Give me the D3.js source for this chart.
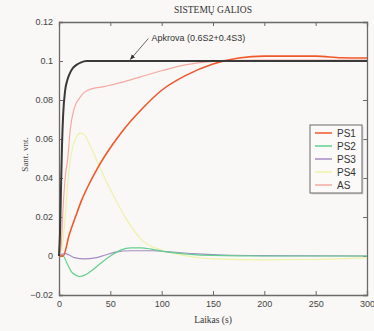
<!DOCTYPE html>
<html>
<head>
<meta charset="utf-8">
<script src="https://cdn.jsdelivr.net/npm/d3@7"></script>
<style>
  body { margin: 0; background: #f9f8f6; }
  svg { display: block; }
</style>
</head>
<body>
<svg width="374" height="331"></svg>
<script>
// data: [time (s), value]
var apkrova = [[0,0],[1,0.012],[2,0.036],[3,0.058],[4,0.072],[6,0.085],[8,0.09],[10,0.093],[13,0.096],[17,0.098],[21,0.0992],[27,0.1],[60,0.1],[300,0.1]];
var ps1 = [[0,0],[4,0],[10,0.011],[16,0.02],[22,0.0285],[28,0.0355],[38,0.0455],[50,0.0555],[61,0.0635],[81,0.0755],[100,0.085],[123,0.0925],[150,0.0985],[175,0.1015],[200,0.1025],[250,0.1025],[275,0.1017],[300,0.1015]];
var ps2 = [[0,0],[4,0],[8,-0.004],[12,-0.008],[16,-0.0097],[20,-0.0105],[25,-0.0098],[30,-0.0082],[40,-0.004],[50,0],[60,0.003],[70,0.0042],[80,0.0042],[90,0.0035],[100,0.0025],[125,0.001],[150,0.0003],[200,0],[300,0]];
var ps3 = [[0,0],[3,0.001],[6,0.0012],[10,0.0005],[15,-0.0008],[25,-0.0015],[35,-0.001],[45,0.0005],[55,0.002],[70,0.0027],[90,0.0027],[110,0.002],[130,0.0012],[160,0.0005],[200,0.0002],[300,0]];
var ps4 = [[0,0],[2,0.002],[4,0.008],[6,0.02],[9,0.04],[13,0.055],[17,0.061],[21,0.063],[25,0.062],[30,0.057],[40,0.045],[55,0.029],[68,0.017],[81,0.008],[100,0.003],[125,0],[150,-0.0015],[200,-0.002],[250,-0.0018],[300,-0.001]];
var as = [[0,0],[2,0.005],[4,0.025],[6,0.04],[8.5,0.05],[11,0.065],[15,0.076],[20,0.081],[28,0.085],[45,0.087],[61,0.089],[80,0.092],[100,0.095],[123,0.098],[150,0.0998],[200,0.1005],[300,0.1005]];

var names = ["PS1", "PS2", "PS3", "PS4", "AS"];
var colors = ["#f0582a", "#62cf8e", "#a48cc4", "#eef2a8", "#f6a8a0"];
var xTicks = [0, 50, 100, 150, 200, 250, 300];
var yTicks = [-0.02, 0, 0.02, 0.04, 0.06, 0.08, 0.1, 0.12];

var svg = d3.select("svg"),
    margin = {top: 22, right: 7, bottom: 36, left: 59},
    width = 374 - margin.left - margin.right,
    height = 331 - margin.top - margin.bottom,
    g = svg.append("g").attr("transform", "translate(" + margin.left + "," + margin.top + ")");

var x = d3.scaleLinear().domain([0, 300]).range([0, width]),
    y = d3.scaleLinear().domain([-0.02, 0.12]).range([height, 0]);

var line = d3.line()
    .x(function (d) { return x(d[0]); })
    .y(function (d) { return y(d[1]); })
    .curve(d3.curveMonotoneX);

var tickFmt = function (d) { return d === 0 ? "0" : d3.format("")(+d.toFixed(2)); };

// axes with inward ticks
g.append("g")
    .attr("transform", "translate(0," + height + ")")
    .call(d3.axisBottom(x).tickValues(xTicks).tickSize(-4).tickPadding(6))
    .call(styleAxis);
g.append("g")
    .call(d3.axisTop(x).tickValues(xTicks).tickSize(-4).tickFormat(""))
    .call(styleAxis);
g.append("g")
    .call(d3.axisLeft(y).tickValues(yTicks).tickSize(-4).tickPadding(6).tickFormat(tickFmt))
    .call(styleAxis);
g.append("g")
    .attr("transform", "translate(" + width + ",0)")
    .call(d3.axisRight(y).tickValues(yTicks).tickSize(-4).tickFormat(""))
    .call(styleAxis);

function styleAxis(sel) {
    sel.select(".domain").attr("stroke", "#6a6a6a").attr("stroke-width", 1.3);
    sel.selectAll(".tick line").attr("stroke", "#6a6a6a");
    sel.selectAll(".tick text")
        .attr("fill", "#444")
        .style("font", "9px 'Liberation Sans', Arial, sans-serif");
}

// series, drawn light to dark so the thin ones sit underneath
var series = [ps4, as, ps3, ps2, ps1];
var order = [3, 4, 2, 1, 0];
series.forEach(function (s, i) {
    g.append("path")
        .attr("d", line(s))
        .attr("fill", "none")
        .attr("stroke", colors[order[i]])
        .attr("stroke-width", order[i] === 0 ? 1.6 : 1.2);
});

g.append("path")
    .attr("d", line(apkrova))
    .attr("fill", "none")
    .attr("stroke", "#3a3a3a")
    .attr("stroke-width", 2);

// annotation
svg.append("defs").append("marker")
    .attr("id", "arr")
    .attr("viewBox", "0 0 10 10")
    .attr("refX", 9).attr("refY", 5)
    .attr("markerWidth", 6).attr("markerHeight", 6)
    .attr("orient", "auto")
    .append("path")
    .attr("d", "M0,1L10,5L0,9Z")
    .attr("fill", "#333");

g.append("line")
    .attr("x1", x(87)).attr("y1", y(0.1115))
    .attr("x2", x(69.5)).attr("y2", y(0.1008))
    .attr("stroke", "#555")
    .attr("stroke-width", 0.9)
    .attr("marker-end", "url(#arr)");

g.append("text")
    .attr("x", x(90))
    .attr("y", y(0.1105))
    .attr("fill", "#333")
    .style("font", "9px 'Liberation Sans', Arial, sans-serif")
    .text("Apkrova (0.6S2+0.4S3)");

// legend
var lg = g.append("g").attr("transform", "translate(" + (width - 57) + ",103)");
lg.append("rect")
    .attr("x", 1.5).attr("y", 1.5)
    .attr("width", 52).attr("height", 68)
    .attr("fill", "#d8d8d8");
lg.append("rect")
    .attr("width", 52).attr("height", 68)
    .attr("fill", "#fbfaf8")
    .attr("stroke", "#6a6a6a")
    .attr("stroke-width", 1);
names.forEach(function (n, i) {
    var yy = 8 + i * 13;
    lg.append("line")
        .attr("x1", 5).attr("x2", 22)
        .attr("y1", yy).attr("y2", yy)
        .attr("stroke", colors[i])
        .attr("stroke-width", 1.5);
    lg.append("text")
        .attr("x", 27).attr("y", yy)
        .attr("dy", "0.35em")
        .attr("fill", "#333")
        .style("font", "10px 'Liberation Sans', Arial, sans-serif")
        .text(n);
});

// titles
svg.append("text")
    .attr("x", margin.left + width / 2)
    .attr("y", 13)
    .attr("text-anchor", "middle")
    .attr("fill", "#333")
    .style("font", "9.5px 'Liberation Serif', 'Times New Roman', serif")
    .text("SISTEMŲ GALIOS");

svg.append("text")
    .attr("x", margin.left + width / 2)
    .attr("y", 323)
    .attr("text-anchor", "middle")
    .attr("fill", "#333")
    .style("font", "9.5px 'Liberation Serif', 'Times New Roman', serif")
    .text("Laikas (s)");

svg.append("text")
    .attr("transform", "translate(28," + (margin.top + height / 2 - 4) + ") rotate(-90)")
    .attr("text-anchor", "middle")
    .attr("fill", "#444")
    .style("font", "9px 'Liberation Serif', 'Times New Roman', serif")
    .text("Sant. vnt.");
</script>
</body>
</html>
